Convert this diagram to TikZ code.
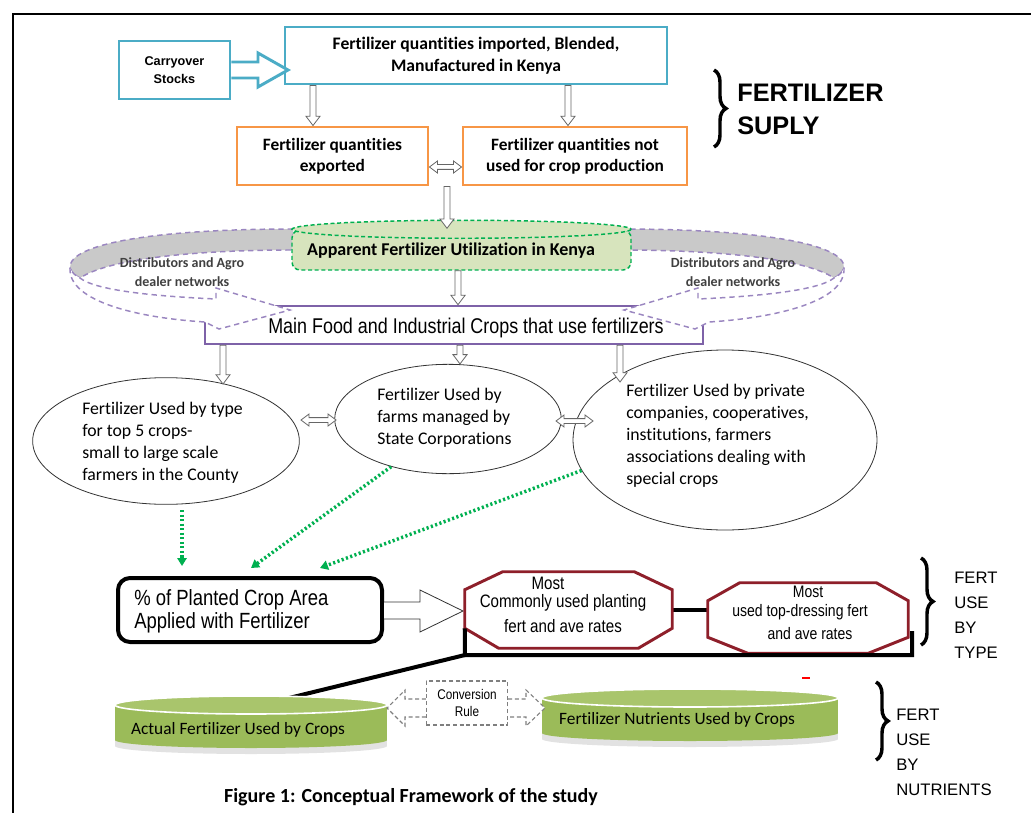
\documentclass[tikz,border=0pt]{standalone}
\usepackage{fontspec}
\setmainfont{Carlito}[Ligatures=NoCommon]
\newfontfamily\arialf{Liberation Sans}
\newfontfamily\narrowf[FakeStretch=0.84]{Liberation Sans}
\usetikzlibrary{arrows.meta,calc,decorations.pathreplacing,shapes.geometric}
\definecolor{cyanb}{HTML}{4BACC6}
\definecolor{orangeb}{HTML}{F79646}
\definecolor{purpleb}{HTML}{7E62A8}
\definecolor{purpled}{HTML}{9A86C0}
\definecolor{greend}{HTML}{00B050}
\definecolor{appfill}{HTML}{D7E4BD}
\definecolor{cylgreen}{HTML}{9BBB59}
\definecolor{cyltop}{HTML}{A9C56C}
\definecolor{hexred}{HTML}{8E1F2A}
\definecolor{bandgray}{HTML}{C9C9C9}
\definecolor{rimgray}{HTML}{E2E2E2}
\definecolor{convgray}{HTML}{7F7F7F}
\definecolor{disttxt}{HTML}{404040}
\tikzset{
  cyanbox/.style={draw=cyanb, line width=2.2pt, fill=white, inner sep=0pt, align=center},
  orbox/.style={draw=orangeb, line width=2.2pt, fill=white, inner sep=0pt, align=center,
    font=\bfseries\fontsize{13}{16}\selectfont},
  vblk/.style={draw=black!60, line width=0.6pt, fill=white, line join=miter,
    to path={let \p1=(\tikztostart), \p2=(\tikztotarget) in
      (\x1-2.3pt,\y1) -- (\x1-2.3pt,\y2+7pt) -- (\x1-5.3pt,\y2+7pt) -- (\x2,\y2)
      -- (\x1+5.3pt,\y2+7pt) -- (\x1+2.3pt,\y2+7pt) -- (\x1+2.3pt,\y1) -- cycle}},
  hblk/.style={draw=black!60, line width=0.6pt, fill=white, line join=miter,
    to path={let \p1=(\tikztostart), \p2=(\tikztotarget) in
      (\x1,\y1) -- (\x1+6pt,\y1+4.5pt) -- (\x1+6pt,\y1+1.8pt) -- (\x2-6pt,\y1+1.8pt)
      -- (\x2-6pt,\y1+4.5pt) -- (\x2,\y1) -- (\x2-6pt,\y1-4.5pt) -- (\x2-6pt,\y1-1.8pt)
      -- (\x1+6pt,\y1-1.8pt) -- (\x1+6pt,\y1-4.5pt) -- cycle}},
  purpdash/.style={draw=purpled, line width=1.1pt, dash pattern=on 4pt off 3pt},
  disttext/.style={align=center, text=disttxt, font=\bfseries\fontsize{10.5}{14}\selectfont},
  ellnode/.style={draw=black!80, line width=0.6pt, ellipse, fill=white, inner sep=0pt},
  elltext/.style={align=left, anchor=north west, inner sep=0pt, font=\fontsize{13.3}{16.5}\selectfont},
  greenarr/.style={draw=greend, line width=2.6pt, dash pattern=on 1.6pt off 1.8pt,
    -{Triangle[length=6pt,width=7pt,fill=greend]}},
  hexdraw/.style={draw=hexred, line width=2.2pt, fill=white, line join=miter},
  hextext/.style={align=center, inner sep=0pt, font=\narrowf\fontsize{13.5}{16}\selectfont},
  hextextb/.style={align=center, inner sep=0pt, font=\narrowf\fontsize{12.5}{15}\selectfont},
  bigbrace/.style={decorate, decoration={brace, amplitude=9pt}, line width=2.6pt},
  sidetext/.style={align=left, anchor=west, inner sep=0pt, font=\arialf\fontsize{12.5}{18.75}\selectfont},
  convdash/.style={draw=convgray, line width=0.8pt, dash pattern=on 3pt off 2pt, fill=white},
  thickblack/.style={draw=black, line width=3pt},
  cyltext/.style={font=\fontsize{13}{15}\selectfont, inner sep=0pt},
}
\newcommand\dealerarrow{%
  \filldraw[purpdash, fill=bandgray] (293,229) .. controls (160,229) and (68,243) .. (70,268)
     .. controls (72,273) and (76,276) .. (80,278) .. controls (110,258) and (200,250) .. (293,250) -- cycle;
  \filldraw[purpdash, fill=white] (70,268) .. controls (68,302) and (140,318) .. (205,322)
     -- (219,329) -- (290,310) -- (216,288) -- (216,299)
     .. controls (150,296) and (95,290) .. (80,278) .. controls (76,276) and (72,273) .. (70,268) -- cycle;
}
\begin{document}
\begin{tikzpicture}[x=0.75pt,y=-0.75pt]
\useasboundingbox (0,0) rectangle (1031,813);
% frame
\draw[line width=2.2pt] (13,813) -- (13,14) -- (1031,14);

% ---------- supply ----------
\node[cyanbox, minimum width=83.25pt, minimum height=43.5pt,
  font=\arialf\bfseries\fontsize{9.5}{14}\selectfont] (carry) at (174.5,70) {Carryover\\Stocks};
\node[cyanbox, minimum width=286.5pt, minimum height=42.75pt,
  font=\bfseries\fontsize{13.2}{16.5}\selectfont] (main) at (476,55.5)
  {Fertilizer quantities imported, Blended,\\Manufactured in Kenya};
\draw[cyanb, line width=2.2pt, fill=white, line join=miter]
  (carry.east |- 0,62) -- (258,62) -- (258,53) -- (288,70) -- (258,87) -- (258,78) -- (carry.east |- 0,78);

\node[orbox, minimum width=143.25pt, minimum height=43.5pt] (ex) at (332.5,156)
  {Fertilizer quantities\\exported};
\node[orbox, minimum width=168pt, minimum height=43.5pt] (nu) at (575,156)
  {Fertilizer quantities not\\used for crop production};
\draw[vblk] (313,0 |- main.south) to (313,0 |- ex.north);
\draw[vblk] (568,0 |- main.south) to (568,0 |- nu.north);
\draw[hblk] (ex.east |- 0,167) to (nu.west |- 0,167);

\draw[bigbrace] (714,70) -- (714,147);
\node[anchor=west, align=left, inner sep=0pt, font=\arialf\bfseries\fontsize{19}{24.75}\selectfont] (supply) at (737,109)
  {FERTILIZER\\SUPLY};

% ---------- utilization ----------
\node[draw=purpleb, line width=2pt, minimum width=373.5pt, minimum height=28.5pt, inner sep=0pt] (crops) at (454,325) {};
\dealerarrow
\begin{scope}[shift={(914,0)}, xscale=-1]
\dealerarrow
\end{scope}
\node[disttext] (d1) at (182,272) {Distributors and Agro\\dealer networks};
\node[disttext] (d2) at (733,272) {Distributors and Agro\\dealer networks};
\node[font=\narrowf\fontsize{16}{18}\selectfont, inner sep=0pt] (cropst) at (466,328)
  {Main Food and Industrial Crops that use fertilizers};

\node[draw=greend, line width=1.1pt, dash pattern=on 3pt off 2pt, fill=appfill, rounded corners=6pt,
  minimum width=254.25pt, minimum height=30pt, inner sep=0pt]
  (app) at (461.5,250) {};
\filldraw[draw=greend, line width=1.1pt, dash pattern=on 3pt off 2pt, fill=appfill]
  (app.north) ellipse [x radius=169.5, y radius=9];
\node[font=\bfseries\fontsize{13.5}{16}\selectfont, inner sep=0pt] (appt) at (451,251) {Apparent Fertilizer Utilization in Kenya};
\draw[vblk] (447,0 |- ex.south) to ($(447,0 |- app.north)+(0,-1)$);
\draw[vblk] (458,0 |- app.south) to (458,0 |- crops.north);

% ---------- ellipses ----------
\node[ellnode, minimum width=200pt, minimum height=95pt] (e1) at (166,441) {};
\node[ellnode, minimum width=170pt, minimum height=82pt] (e2) at (448,419) {};
\node[ellnode, minimum width=228pt, minimum height=135pt] (e3) at (725,440) {};
\node[elltext] (e1t) at (82,402) {Fertilizer Used by type\\for top 5 crops-\\small to large scale\\farmers in the County};
\node[elltext] (e2t) at (377,388) {Fertilizer Used by\\farms managed by\\State Corporations};
\node[elltext] (e3t) at (626,384) {Fertilizer Used by private\\companies, cooperatives,\\institutions, farmers\\associations dealing with\\special crops};

\coordinate (a1) at (223,384);
\coordinate (a3) at (620,382);
\draw[vblk] (a1 |- crops.south) to (a1);
\draw[vblk] (460,0 |- crops.south) to (460,0 |- e2.north);
\draw[vblk] (a3 |- crops.south) to (a3);
\draw[hblk] (301,420) to (336,420);
\draw[hblk] (556,421) to (593,421);

% ---------- fert use by type ----------
\node[draw=black, line width=3pt, rounded corners=9pt, minimum width=198pt, minimum height=48pt, inner sep=0pt] (pct) at (250,610) {};
\node[anchor=west, align=left, inner sep=0pt, font=\narrowf\fontsize{16.5}{17.5}\selectfont] (pctt) at (134,611)
  {\% of Planted Crop Area\\Applied with Fertilizer};

\coordinate (g1) at (182,566);
\coordinate (g2) at (251,568);
\coordinate (g3) at (320,568);
\draw[greenarr, shorten <=4pt] (g1 |- e1.south) -- (g1);
\draw[greenarr] (e2.220) -- (g2);
\draw[greenarr] (e3.192) -- (g3);

\draw[black!80, line width=0.6pt, fill=white, line join=miter]
  (pct.east |- 0,602) -- (420,602) -- (420,590) -- (463,611) -- (420,632) -- (420,619) -- (pct.east |- 0,619);

\node[minimum width=155.25pt, minimum height=57pt, inner sep=0pt] (h1) at (568.5,610) {};
\node[minimum width=150pt, minimum height=52.5pt, inner sep=0pt] (h2) at (808,618) {};
\draw[thickblack] (h1.east) -- (h1.east -| h2.west);
\draw[hexdraw] ($(h1.north west)+(0,18)$) -- ($(h1.north west)+(38,0)$) -- ($(h1.north east)+(-38,0)$)
  -- ($(h1.north east)+(0,18)$) -- ($(h1.south east)+(0,-20)$) -- ($(h1.south east)+(-34,0)$)
  -- ($(h1.south west)+(34,0)$) -- ($(h1.south west)+(0,-20)$) -- cycle;
\draw[hexdraw] ($(h2.north west)+(0,18)$) -- ($(h2.north west)+(32,0)$) -- ($(h2.north east)+(-32,0)$)
  -- ($(h2.north east)+(0,18)$) -- ($(h2.south east)+(0,-16)$) -- ($(h2.south east)+(-40,0)$)
  -- ($(h2.south west)+(40,0)$) -- ($(h2.south west)+(0,-16)$) -- cycle;
\node[hextext] (h1a) at (548,583) {Most};
\node[hextext] (h1b) at (563,603) {Commonly used planting};
\node[hextext] (h1c) at (563,626) {fert and ave rates};
\node[hextextb] (h2a) at (808,592) {Most};
\node[hextextb] (h2b) at (800,612) {used top-dressing fert};
\node[hextextb] (h2c) at (810,634) {and ave rates};

\coordinate (bl) at (465,655);
\coordinate (bc) at (912,655);
\coordinate (br) at (912,631);
\draw[thickblack, line join=miter] ($(h1.south west)+(0,-20)$) -- (bl) -- (bc) -- (br);
\draw[thickblack] (bl) -- (289,698);
\draw[red, line width=1.2pt] (802,678) -- (810,678);

\draw[bigbrace] (921,558) -- (921,645);
\node[sidetext] (ttype) at (954,615) {FERT\\USE\\BY\\TYPE};

% ---------- nutrients ----------
\fill[rimgray] (115,705) rectangle (387,746);
\fill[rimgray] (251,746) ellipse [x radius=136, y radius=8];
\fill[cylgreen] (115,705) rectangle (387,740);
\fill[cylgreen] (251,740) ellipse [x radius=136, y radius=8];
\filldraw[draw=white, line width=1.2pt, fill=cyltop] (251,705) ellipse [x radius=136, y radius=9];
\node[cyltext] (c1) at (238,730) {Actual Fertilizer Used by Crops};
\fill[rimgray] (542,698) rectangle (838,739);
\fill[rimgray] (690,739) ellipse [x radius=148, y radius=8];
\fill[cylgreen] (542,698) rectangle (838,733);
\fill[cylgreen] (690,733) ellipse [x radius=148, y radius=8];
\filldraw[draw=white, line width=1.2pt, fill=cyltop] (690,698) ellipse [x radius=148, y radius=9];
\node[cyltext] (c2) at (677,720) {Fertilizer Nutrients Used by Crops};

\node[convdash, minimum width=61pt, minimum height=33pt, inner sep=0pt, align=center,
  font=\narrowf\fontsize{10.5}{12.5}\selectfont] (conv) at (467,703) {Conversion\\Rule};
\draw[convdash, line join=miter] (conv.west |- 0,699) -- (405,699) -- (405,690) -- (387,708) -- (405,726) -- (405,717) -- (conv.west |- 0,717);
\draw[convdash, line join=miter] (conv.east |- 0,699) -- (526,699) -- (526,690) -- (545,708) -- (526,726) -- (526,717) -- (conv.east |- 0,717);

\draw[bigbrace] (876,682) -- (876,760);
\node[sidetext] (tnut) at (896,752) {FERT\\USE\\BY\\NUTRIENTS};

\node[font=\bfseries\fontsize{15}{18}\selectfont, inner sep=0pt] (cap) at (411,797) {Figure 1: Conceptual Framework of the study};
\end{tikzpicture}
\end{document}
